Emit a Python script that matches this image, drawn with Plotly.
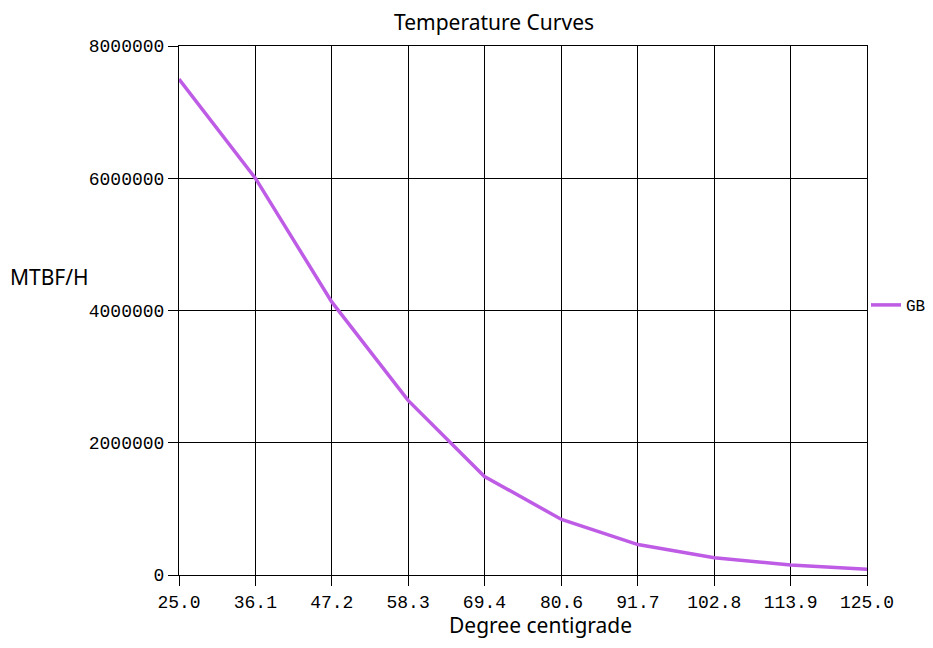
import plotly.graph_objects as go

temps = [25.0, 36.1, 47.2, 58.3, 69.4, 80.6, 91.7, 102.8, 113.9, 125.0]
tick_labels = ["25.0", "36.1", "47.2", "58.3", "69.4", "80.6", "91.7", "102.8", "113.9", "125.0"]
mtbf_gb = [7500000, 6000000, 4130000, 2640000, 1490000, 840000, 460000, 260000, 150000, 86000]
y_ticks = [0, 2000000, 4000000, 6000000, 8000000]
y_tick_labels = ["0", "2000000", "4000000", "6000000", "8000000"]

OFF = 8  # page body margin
W, H = 933 - 2 * OFF, 648 - 2 * OFF
L, R, T, B = 171, 58, 38, 65
pw = W - L - R
ph = H - T - B

LINE_COLOR = "#BF5CE6"
TICK_FONT = dict(family="Liberation Mono, DejaVu Sans Mono, monospace", size=18, color="#000")
TEXT_FONT = dict(family="Noto Sans, Open Sans, sans-serif", size=21, color="#000")


def px2paper(sx, sy):
    fx, fy = sx - OFF, sy - OFF
    return (fx - L) / pw, (H - B - fy) / ph


fig = go.Figure()
fig.add_trace(go.Scatter(
    x=temps, y=mtbf_gb, mode="lines", name="GB",
    line=dict(color=LINE_COLOR, width=3.5),
))

annos = []
for text, sx, sy, size in [("Temperature Curves", 494, 22, 21),
                           ("MTBF/H", 49, 277, 21),
                           ("Degree centigrade", 540, 625, 21)]:
    ax, ay = px2paper(sx, sy)
    annos.append(dict(text=text, x=ax, y=ay, xref="paper", yref="paper",
                      xanchor="center", yanchor="middle",
                      showarrow=False, font=dict(TEXT_FONT, size=size)))

lx, ly = px2paper(866, 305)
fig.update_layout(
    width=W, height=H,
    margin=dict(l=L, r=R, t=T, b=B, autoexpand=False),
    paper_bgcolor="white", plot_bgcolor="white",
    showlegend=True,
    legend=dict(x=lx, y=ly, xanchor="left", yanchor="middle",
                font=dict(family="Liberation Mono, monospace", size=16, color="#000"),
                itemwidth=30, bgcolor="rgba(0,0,0,0)"),
    annotations=annos,
)

fig.update_xaxes(
    range=[25.0, 125.0], tickvals=temps, ticktext=tick_labels,
    showgrid=True, gridcolor="#000", gridwidth=1,
    showline=True, linecolor="#000", linewidth=1, mirror=True,
    ticks="outside", ticklen=10, tickcolor="#000", tickfont=TICK_FONT,
    zeroline=False,
)
fig.update_yaxes(
    range=[0, 8000000], tickvals=y_ticks, ticktext=y_tick_labels,
    showgrid=True, gridcolor="#000", gridwidth=1,
    showline=True, linecolor="#000", linewidth=1, mirror=True,
    ticks="outside", ticklen=10, tickcolor="#000", tickfont=TICK_FONT,
    zeroline=False,
)

fig.write_html("out.html")
